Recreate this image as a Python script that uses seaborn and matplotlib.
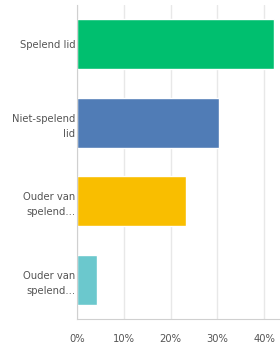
import matplotlib
matplotlib.use("Agg")
import matplotlib.pyplot as plt
import seaborn as sns
import pandas as pd

# Antwoorden en percentages
labels = ["Spelend lid", "Niet-spelend\nlid", "Ouder van\nspelend...", "Ouder van\nspelend..."]
values = [42.1, 30.3, 23.3, 4.3]
colors = ["#00BF6F", "#507CB6", "#F9BE00", "#6BC8CD"]
xticks = [0, 10, 20, 30, 40]

# labels 3 en 4 zijn gelijk, dus een eigen sleutel per rij
df = pd.DataFrame({"key": [f"a{i}" for i in range(len(labels))], "value": values})

sns.set_style("white")
plt.rcParams['font.family'] = ['DejaVu Sans']

fig = plt.figure(figsize=(2.8, 3.45), dpi=100)
ax = fig.add_axes([77 / 280, 1 - 319 / 345, 1 - 77 / 280, 314 / 345])

sns.barplot(data=df, x="value", y="key", hue="key", palette=colors,
            orient="h", width=0.635, legend=False, saturation=1, ax=ax)

ax.set_xlim(0, 43.4)
ax.set_ylim(3.5, -0.5)
ax.set_yticks(range(len(labels)))
ax.set_yticklabels(labels)
ax.set_xticks(xticks)
ax.set_xticklabels([f"{t}%" for t in xticks])
ax.xaxis.grid(True, color="#e8e8e8", linewidth=1)
ax.set_axisbelow(True)
ax.set_xlabel("")
ax.set_ylabel("")

for s in ["top", "right"]:
    ax.spines[s].set_visible(False)
ax.spines["left"].set_color("#d0d0d0")
ax.spines["bottom"].set_color("#d0d0d0")

ax.tick_params(axis="y", length=0, pad=1, labelsize=7.2, labelcolor="#555555")
ax.tick_params(axis="x", length=0, pad=11, labelsize=7.2, labelcolor="#555555")
for t in ax.get_yticklabels():
    t.set_multialignment("right")
    t.set_linespacing(1.6)

fig.savefig("out.png", dpi=100)
